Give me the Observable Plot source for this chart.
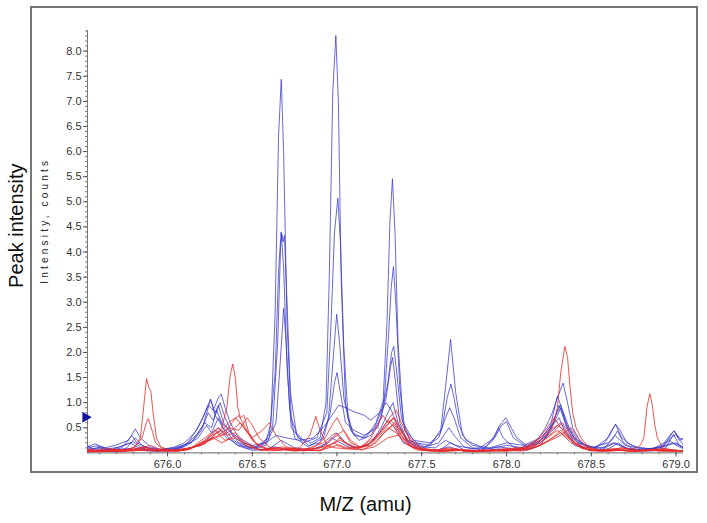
<!DOCTYPE html>
<html><head><meta charset="utf-8">
<script src="https://cdn.jsdelivr.net/npm/d3@7"></script>
<script src="https://cdn.jsdelivr.net/npm/@observablehq/plot@0.6"></script>
<style>
body{margin:0;background:#fff;}
#wrap{position:relative;width:707px;height:523px;}
#box{position:absolute;left:30px;top:6px;width:668px;height:467px;border:2px solid #777;box-sizing:border-box;pointer-events:none;}
</style></head><body><div id="wrap"><div id="box"></div></div>
<script>
// ---- data (m/z in amu, intensity in counts) ----
const xTicks = [676.0, 676.5, 677.0, 677.5, 678.0, 678.5, 679.0];
const yTicks = [0.5,1.0,1.5,2.0,2.5,3.0,3.5,4.0,4.5,5.0,5.5,6.0,6.5,7.0,7.5,8.0];
const markerLevel = [0.71];

const blue1 = [[675.53,0.06],[675.6,0.08],[675.7,0.05],[675.8,0.1],[675.9,0.06],[676.0,0.04],[676.1,0.08],[676.2,0.15],[676.26,0.35],[676.3,0.5],[676.35,0.3],[676.42,0.15],[676.5,0.1],[676.58,0.2],[676.61,0.6],[676.635,2.8],[676.655,6.3],[676.671,7.44],[676.685,6.0],[676.705,2.6],[676.73,0.7],[676.77,0.3],[676.85,0.2],[676.9,0.3],[676.935,1.0],[676.955,3.6],[676.975,7.2],[676.993,8.31],[677.008,7.0],[677.025,3.4],[677.05,1.0],[677.09,0.4],[677.15,0.3],[677.22,0.5],[677.27,0.9],[677.295,2.6],[677.312,4.6],[677.327,5.46],[677.342,4.4],[677.36,2.2],[677.39,0.6],[677.45,0.25],[677.55,0.2],[677.61,0.4],[677.64,1.3],[677.67,2.26],[677.7,1.2],[677.74,0.35],[677.8,0.15],[677.9,0.1],[678.0,0.2],[678.1,0.15],[678.2,0.3],[678.28,0.6],[678.32,0.9],[678.36,0.5],[678.42,0.2],[678.5,0.1],[678.6,0.2],[678.64,0.35],[678.7,0.15],[678.8,0.08],[678.9,0.1],[678.98,0.2],[679.044,0.12]];
const blue2 = [[675.53,0.1],[675.58,0.14],[675.65,0.08],[675.72,0.12],[675.78,0.2],[675.83,0.1],[675.9,0.05],[675.98,0.08],[676.06,0.12],[676.14,0.2],[676.2,0.45],[676.24,0.8],[676.27,0.65],[676.31,1.0],[676.34,0.7],[676.38,0.4],[676.45,0.2],[676.52,0.12],[676.6,0.3],[676.635,1.6],[676.655,3.6],[676.67,4.4],[676.685,3.7],[676.705,1.7],[676.73,0.5],[676.8,0.2],[676.88,0.3],[676.94,0.8],[676.965,2.6],[676.985,4.4],[677.005,5.07],[677.02,4.2],[677.04,2.1],[677.065,0.7],[677.1,0.35],[677.17,0.3],[677.23,0.6],[677.28,1.1],[677.305,2.4],[677.32,3.3],[677.333,3.71],[677.348,2.9],[677.37,1.3],[677.4,0.45],[677.47,0.2],[677.55,0.15],[677.62,0.5],[677.65,1.1],[677.672,1.37],[677.69,1.1],[677.72,0.55],[677.76,0.25],[677.85,0.12],[677.93,0.3],[677.97,0.55],[678.0,0.62],[678.04,0.3],[678.12,0.12],[678.2,0.25],[678.26,0.55],[678.3,1.13],[678.33,0.85],[678.37,0.5],[678.43,0.2],[678.52,0.1],[678.6,0.3],[678.643,0.57],[678.68,0.3],[678.75,0.12],[678.85,0.08],[678.93,0.15],[678.987,0.44],[679.02,0.25],[679.044,0.3]];
const blue3 = [[675.53,0.04],[675.6,0.05],[675.68,0.03],[675.76,0.1],[675.81,0.3],[675.85,0.15],[675.92,0.06],[676.0,0.05],[676.08,0.1],[676.15,0.25],[676.21,0.55],[676.254,1.07],[676.28,0.8],[676.3,0.95],[676.33,0.6],[676.4,0.3],[676.47,0.12],[676.55,0.1],[676.62,0.5],[676.65,2.2],[676.667,4.1],[676.675,4.36],[676.682,4.2],[676.69,4.33],[676.705,3.0],[676.725,1.2],[676.76,0.4],[676.83,0.15],[676.9,0.2],[676.95,0.7],[676.98,2.0],[676.998,2.76],[677.015,2.2],[677.04,1.1],[677.08,0.45],[677.13,0.25],[677.2,0.35],[677.26,0.7],[677.3,1.4],[677.322,2.0],[677.335,2.12],[677.352,1.6],[677.38,0.7],[677.43,0.25],[677.52,0.12],[677.6,0.3],[677.64,0.7],[677.665,0.9],[677.69,0.7],[677.73,0.3],[677.8,0.1],[677.9,0.08],[678.0,0.15],[678.1,0.1],[678.2,0.2],[678.27,0.45],[678.32,0.6],[678.37,0.35],[678.45,0.12],[678.55,0.08],[678.63,0.2],[678.7,0.1],[678.8,0.06],[678.9,0.1],[678.97,0.3],[679.0,0.37],[679.044,0.15]];
const blue4 = [[675.53,0.08],[675.6,0.1],[675.66,0.05],[675.74,0.15],[675.8,0.22],[675.84,0.12],[675.93,0.08],[676.02,0.06],[676.1,0.15],[676.17,0.35],[676.22,0.6],[676.26,0.5],[676.29,0.85],[676.32,0.6],[676.36,0.45],[676.42,0.2],[676.5,0.1],[676.58,0.15],[676.64,0.6],[676.665,1.8],[676.685,2.88],[676.7,2.2],[676.72,0.9],[676.75,0.3],[676.83,0.12],[676.92,0.3],[676.96,0.8],[676.985,1.4],[677.0,1.6],[677.02,1.2],[677.05,0.6],[677.1,0.45],[677.16,0.35],[677.24,0.5],[677.29,1.1],[677.315,1.7],[677.328,1.9],[677.345,1.4],[677.37,0.6],[677.42,0.2],[677.5,0.1],[677.6,0.2],[677.64,0.4],[677.66,0.5],[677.69,0.35],[677.75,0.12],[677.85,0.06],[677.95,0.12],[678.05,0.08],[678.15,0.15],[678.24,0.35],[678.29,0.75],[678.32,0.95],[678.35,0.6],[678.4,0.3],[678.48,0.12],[678.58,0.1],[678.64,0.2],[678.72,0.08],[678.82,0.05],[678.92,0.12],[679.0,0.2],[679.044,0.1]];
const blue5 = [[675.53,0.12],[675.57,0.18],[675.63,0.1],[675.7,0.16],[675.77,0.25],[675.81,0.48],[675.84,0.3],[675.9,0.12],[675.96,0.06],[676.03,0.1],[676.1,0.2],[676.16,0.4],[676.21,0.7],[676.24,0.95],[676.27,0.85],[676.3,1.1],[676.317,1.17],[676.34,0.9],[676.37,0.6],[676.42,0.3],[676.5,0.15],[676.58,0.2],[676.64,0.35],[676.7,0.3],[676.78,0.25],[676.86,0.3],[676.93,0.55],[676.98,0.8],[677.01,0.95],[677.05,0.9],[677.1,0.82],[677.16,0.75],[677.2,0.65],[677.25,0.8],[677.29,1.0],[677.32,0.85],[677.36,0.5],[677.42,0.25],[677.5,0.12],[677.58,0.1],[677.64,0.25],[677.7,0.15],[677.8,0.08],[677.88,0.12],[677.93,0.35],[677.96,0.55],[677.996,0.7],[678.02,0.55],[678.06,0.3],[678.12,0.15],[678.18,0.25],[678.23,0.5],[678.27,0.8],[678.3,1.1],[678.334,1.39],[678.36,1.0],[678.39,0.5],[678.44,0.2],[678.52,0.1],[678.58,0.2],[678.62,0.45],[678.643,0.57],[678.67,0.45],[678.71,0.2],[678.78,0.1],[678.86,0.08],[678.93,0.2],[678.97,0.38],[678.99,0.44],[679.02,0.3],[679.044,0.25]];
const blue6 = [[675.53,0.02],[675.62,0.04],[675.7,0.02],[675.78,0.08],[675.85,0.05],[675.95,0.03],[676.05,0.06],[676.12,0.2],[676.18,0.5],[676.22,0.8],[676.254,1.07],[676.28,0.75],[676.31,0.6],[676.35,0.35],[676.41,0.15],[676.5,0.05],[676.6,0.08],[676.67,0.25],[676.75,0.1],[676.85,0.06],[676.95,0.2],[677.0,0.4],[677.05,0.2],[677.12,0.1],[677.2,0.2],[677.26,0.5],[677.3,0.8],[677.33,1.0],[677.36,0.6],[677.41,0.25],[677.5,0.08],[677.6,0.05],[677.67,0.2],[677.75,0.06],[677.85,0.04],[677.92,0.25],[677.953,0.5],[677.98,0.3],[678.04,0.12],[678.12,0.05],[678.2,0.15],[678.26,0.45],[678.31,0.95],[678.35,0.55],[678.4,0.2],[678.48,0.06],[678.56,0.05],[678.62,0.25],[678.655,0.44],[678.69,0.2],[678.76,0.05],[678.86,0.04],[678.94,0.1],[678.985,0.37],[679.02,0.15],[679.044,0.1]];
const blue7 = [[675.53,0.15],[675.56,0.08],[675.61,0.12],[675.67,0.06],[675.73,0.1],[675.79,0.35],[675.82,0.2],[675.88,0.1],[675.95,0.05],[676.02,0.08],[676.1,0.12],[676.18,0.3],[676.23,0.55],[676.26,0.4],[676.3,0.7],[676.33,0.5],[676.39,0.25],[676.46,0.1],[676.55,0.06],[676.63,0.12],[676.7,0.08],[676.8,0.05],[676.9,0.1],[676.97,0.3],[677.02,0.2],[677.08,0.1],[677.18,0.15],[677.25,0.4],[677.3,0.65],[677.34,0.5],[677.39,0.2],[677.48,0.08],[677.58,0.05],[677.66,0.12],[677.75,0.04],[677.85,0.03],[677.95,0.08],[678.05,0.06],[678.15,0.1],[678.22,0.3],[678.27,0.55],[678.31,0.7],[678.34,0.45],[678.4,0.15],[678.5,0.05],[678.6,0.08],[678.66,0.2],[678.72,0.06],[678.82,0.04],[678.9,0.06],[678.96,0.25],[679.0,0.15],[679.044,0.08]];

const red1 = [[675.53,0.04],[675.6,0.06],[675.68,0.03],[675.75,0.05],[675.81,0.12],[675.84,0.3],[675.862,1.0],[675.876,1.48],[675.89,1.3],[675.902,1.22],[675.915,0.8],[675.935,0.3],[675.96,0.12],[676.02,0.05],[676.1,0.08],[676.2,0.15],[676.27,0.3],[676.32,0.2],[676.4,0.35],[676.45,0.2],[676.55,0.06],[676.65,0.1],[676.75,0.05],[676.85,0.08],[676.95,0.15],[677.02,0.25],[677.1,0.1],[677.2,0.15],[677.28,0.4],[677.33,0.55],[677.38,0.3],[677.45,0.1],[677.55,0.05],[677.65,0.08],[677.75,0.04],[677.85,0.05],[677.95,0.06],[678.05,0.1],[678.15,0.08],[678.25,0.25],[678.32,0.4],[678.38,0.2],[678.48,0.06],[678.58,0.05],[678.68,0.1],[678.78,0.04],[678.88,0.08],[678.97,0.06],[679.044,0.04]];
const red2 = [[675.53,0.02],[675.62,0.03],[675.72,0.05],[675.8,0.1],[675.85,0.3],[675.875,0.6],[675.886,0.68],[675.9,0.55],[675.93,0.2],[675.98,0.05],[676.06,0.04],[676.14,0.1],[676.22,0.3],[676.28,0.45],[676.33,0.35],[676.38,0.6],[676.42,0.75],[676.46,0.5],[676.5,0.25],[676.56,0.1],[676.64,0.05],[676.72,0.08],[676.8,0.04],[676.9,0.06],[676.98,0.2],[677.04,0.12],[677.12,0.08],[677.2,0.2],[677.27,0.45],[677.31,0.6],[677.33,0.7],[677.36,0.55],[677.41,0.25],[677.48,0.08],[677.58,0.04],[677.7,0.06],[677.8,0.03],[677.9,0.05],[678.0,0.08],[678.1,0.06],[678.2,0.2],[678.27,0.4],[678.33,0.6],[678.37,0.4],[678.43,0.15],[678.52,0.05],[678.62,0.08],[678.72,0.04],[678.82,0.06],[678.92,0.03],[679.0,0.05],[679.044,0.03]];
const red3 = [[675.53,0.05],[675.6,0.03],[675.7,0.06],[675.8,0.04],[675.9,0.08],[676.0,0.04],[676.1,0.06],[676.18,0.15],[676.26,0.3],[676.32,0.5],[676.35,0.9],[676.37,1.55],[676.385,1.77],[676.4,1.5],[676.415,0.9],[676.43,0.7],[676.45,0.75],[676.48,0.4],[676.53,0.15],[676.6,0.08],[676.68,0.12],[676.76,0.05],[676.84,0.1],[676.92,0.2],[676.99,0.4],[677.03,0.25],[677.1,0.1],[677.18,0.15],[677.25,0.35],[677.3,0.5],[677.35,0.4],[677.4,0.2],[677.47,0.06],[677.56,0.04],[677.66,0.1],[677.76,0.03],[677.86,0.06],[677.96,0.04],[678.06,0.08],[678.16,0.12],[678.24,0.3],[678.3,0.45],[678.36,0.3],[678.44,0.1],[678.54,0.04],[678.64,0.06],[678.74,0.03],[678.84,0.05],[678.94,0.08],[679.044,0.04]];
const red4 = [[675.53,0.03],[675.64,0.05],[675.74,0.02],[675.84,0.1],[675.92,0.06],[676.0,0.03],[676.08,0.05],[676.16,0.12],[676.25,0.25],[676.32,0.35],[676.38,0.45],[676.43,0.6],[676.47,0.4],[676.52,0.2],[676.58,0.08],[676.66,0.05],[676.74,0.1],[676.82,0.06],[676.9,0.04],[676.96,0.15],[677.02,0.3],[677.07,0.15],[677.15,0.06],[677.23,0.2],[677.29,0.45],[677.34,0.6],[677.38,0.35],[677.44,0.12],[677.52,0.05],[677.62,0.03],[677.72,0.05],[677.82,0.02],[677.92,0.06],[678.0,0.04],[678.08,0.1],[678.16,0.2],[678.22,0.35],[678.27,0.5],[678.3,0.9],[678.32,1.6],[678.344,2.12],[678.36,1.9],[678.375,1.3],[678.39,0.8],[678.41,0.5],[678.44,0.3],[678.48,0.12],[678.56,0.05],[678.66,0.08],[678.76,0.03],[678.86,0.05],[678.96,0.04],[679.044,0.03]];
const red5 = [[675.53,0.03],[675.62,0.02],[675.72,0.04],[675.82,0.08],[675.9,0.15],[675.97,0.05],[676.06,0.03],[676.14,0.08],[676.22,0.25],[676.28,0.45],[676.3,0.5],[676.35,0.35],[676.4,0.4],[676.46,0.2],[676.54,0.06],[676.62,0.04],[676.7,0.08],[676.78,0.1],[676.84,0.35],[676.875,0.73],[676.9,0.45],[676.94,0.15],[676.99,0.1],[677.06,0.08],[677.14,0.12],[677.22,0.3],[677.28,0.5],[677.32,0.65],[677.36,0.45],[677.42,0.15],[677.5,0.05],[677.6,0.03],[677.7,0.06],[677.8,0.02],[677.9,0.04],[678.0,0.06],[678.1,0.04],[678.2,0.15],[678.27,0.3],[678.32,0.45],[678.37,0.3],[678.45,0.08],[678.55,0.04],[678.65,0.06],[678.73,0.04],[678.79,0.15],[678.81,0.3],[678.828,0.9],[678.845,1.18],[678.86,0.95],[678.875,0.55],[678.89,0.3],[678.92,0.1],[678.98,0.05],[679.044,0.04]];
const red6 = [[675.53,0.06],[675.6,0.04],[675.7,0.07],[675.78,0.05],[675.86,0.12],[675.94,0.06],[676.04,0.04],[676.12,0.06],[676.2,0.2],[676.26,0.35],[676.32,0.45],[676.36,0.6],[676.4,0.7],[676.44,0.55],[676.5,0.3],[676.56,0.45],[676.6,0.6],[676.64,0.35],[676.7,0.12],[676.78,0.06],[676.86,0.1],[676.93,0.3],[676.97,0.55],[677.0,0.7],[677.03,0.5],[677.08,0.2],[677.15,0.1],[677.22,0.25],[677.28,0.55],[677.32,0.75],[677.35,0.85],[677.38,0.6],[677.43,0.25],[677.5,0.08],[677.6,0.05],[677.7,0.08],[677.8,0.04],[677.9,0.05],[678.0,0.03],[678.1,0.08],[678.2,0.25],[678.26,0.45],[678.3,0.55],[678.34,0.45],[678.4,0.2],[678.48,0.06],[678.58,0.04],[678.68,0.1],[678.78,0.05],[678.88,0.07],[678.98,0.04],[679.044,0.05]];
const red7 = [[675.53,0.02],[675.64,0.04],[675.74,0.03],[675.84,0.05],[675.94,0.03],[676.04,0.06],[676.14,0.1],[676.22,0.22],[676.3,0.35],[676.36,0.5],[676.42,0.45],[676.47,0.7],[676.5,0.55],[676.54,0.3],[676.6,0.12],[676.68,0.06],[676.76,0.04],[676.84,0.06],[676.92,0.12],[676.98,0.3],[677.04,0.45],[677.08,0.25],[677.14,0.1],[677.2,0.3],[677.24,0.55],[677.27,0.75],[677.3,0.6],[677.34,0.7],[677.38,0.45],[677.44,0.15],[677.52,0.05],[677.62,0.03],[677.72,0.06],[677.82,0.03],[677.92,0.04],[678.02,0.06],[678.12,0.1],[678.19,0.3],[678.24,0.5],[678.28,0.7],[678.32,0.5],[678.36,0.35],[678.42,0.15],[678.5,0.04],[678.6,0.03],[678.7,0.06],[678.8,0.04],[678.9,0.05],[679.0,0.03],[679.044,0.04]];
const red8 = [[675.53,0.08],[675.58,0.05],[675.66,0.09],[675.74,0.04],[675.82,0.07],[675.9,0.05],[675.98,0.08],[676.06,0.04],[676.14,0.1],[676.22,0.18],[676.29,0.4],[676.34,0.25],[676.4,0.3],[676.48,0.12],[676.56,0.05],[676.66,0.08],[676.74,0.04],[676.82,0.06],[676.9,0.05],[677.0,0.15],[677.06,0.08],[677.14,0.06],[677.22,0.12],[677.3,0.3],[677.36,0.35],[677.4,0.45],[677.44,0.25],[677.5,0.1],[677.58,0.05],[677.68,0.04],[677.78,0.06],[677.88,0.03],[677.98,0.05],[678.08,0.04],[678.18,0.12],[678.26,0.25],[678.32,0.35],[678.38,0.5],[678.42,0.3],[678.48,0.1],[678.56,0.04],[678.66,0.05],[678.76,0.03],[678.86,0.06],[678.96,0.04],[679.044,0.05]];

const blueSeries = {blue1, blue2, blue3, blue4, blue5, blue6, blue7};
const redSeries = {red1, red2, red3, red4, red5, red6, red7, red8};

function toRows(group) {
  const rows = [];
  for (const [name, pts] of Object.entries(group)) {
    for (const [mz, v] of pts) rows.push({series: name, mz, v});
  }
  return rows;
}
const blueRows = toRows(blueSeries);
const redRows = toRows(redSeries);

const xDomain = [675.528, 679.044];
const yDomain = [0, 8.41];
const xMinor = d3.range(675.6, 679.05, 0.1).map(d => +d.toFixed(1));
const yMinor = d3.range(0.1, 8.41, 0.1).map(d => +d.toFixed(1));

const chart = Plot.plot({
  width: 707,
  height: 523,
  marginLeft: 87,
  marginRight: 24,
  marginTop: 30,
  marginBottom: 70.6,
  style: {fontFamily: "'Liberation Sans', Arial, sans-serif", fontSize: "11px", color: "#333", background: "transparent", overflow: "visible"},
  x: {domain: xDomain},
  y: {domain: yDomain},
  marks: [
    Plot.ruleX([xDomain[0]], {y1: yDomain[0], y2: yDomain[1], stroke: "#777"}),
    Plot.ruleY([0], {stroke: "#666"}),
    Plot.axisY({ticks: yMinor, tickSize: 2, tickFormat: () => "", label: null, stroke: "#777"}),
    Plot.axisY({ticks: yTicks, tickSize: 4, tickPadding: 2, tickFormat: d3.format(".1f"), label: null, stroke: "#555", fill: "#333"}),
    Plot.axisX({ticks: xMinor, tickSize: 2, tickFormat: () => "", label: null, stroke: "#777"}),
    Plot.axisX({ticks: xTicks, tickSize: 4, tickPadding: 3, tickFormat: d3.format(".1f"), label: null, stroke: "#555", fill: "#333"}),
    Plot.line(blueRows, {x: "mz", y: "v", z: "series", stroke: "#3838cc", strokeWidth: 0.95, strokeOpacity: 0.8, clip: true}),
    Plot.line(redRows, {x: "mz", y: "v", z: "series", stroke: "#e82a2a", strokeWidth: 0.95, strokeOpacity: 0.85, clip: true}),
    Plot.dot(markerLevel, {x: () => xDomain[0], y: d => d, symbol: "triangle", r: 4, fill: "#1414a0", stroke: null, rotate: 90, dx: -2}),
    Plot.text(["Peak intensity"], {frameAnchor: "left", textAnchor: "middle", lineAnchor: "middle", rotate: -90, dx: -71, dy: -16, fontSize: 20, fill: "#111"}),
    Plot.text(["Intensity, counts"], {frameAnchor: "left", textAnchor: "middle", lineAnchor: "middle", rotate: -90, dx: -43, dy: -21, fontSize: 10, fill: "#222"}),
    Plot.text(["M/Z (amu)"], {frameAnchor: "bottom", textAnchor: "middle", lineAnchor: "middle", dx: -20, dy: 52, fontSize: 20, fill: "#111"})
  ]
});
chart.querySelectorAll("text").forEach(t => {
  if (t.textContent === "Intensity, counts") t.setAttribute("letter-spacing", "3.2");
});
chart.style.position = "absolute";
chart.style.left = "0";
chart.style.top = "0";
document.getElementById("wrap").appendChild(chart);
</script>
</body></html>
